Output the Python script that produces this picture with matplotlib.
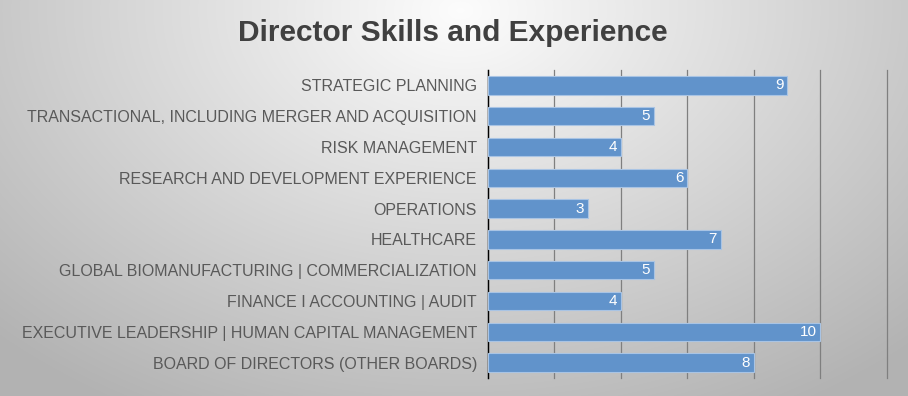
import numpy as np
import matplotlib.pyplot as plt

plt.rcParams['font.family'] = ['Liberation Sans', 'DejaVu Sans']

# Data (top to bottom as shown)
skills = [
    'STRATEGIC PLANNING',
    'TRANSACTIONAL, INCLUDING MERGER AND ACQUISITION',
    'RISK MANAGEMENT',
    'RESEARCH AND DEVELOPMENT EXPERIENCE',
    'OPERATIONS',
    'HEALTHCARE',
    'GLOBAL BIOMANUFACTURING | COMMERCIALIZATION',
    'FINANCE I ACCOUNTING | AUDIT',
    'EXECUTIVE LEADERSHIP | HUMAN CAPITAL MANAGEMENT',
    'BOARD OF DIRECTORS (OTHER BOARDS)',
]
counts = [9, 5, 4, 6, 3, 7, 5, 4, 10, 8]

W, H = 908, 396
fig = plt.figure(figsize=(W / 100, H / 100), dpi=100)

# Radial gray gradient background
bg = fig.add_axes([0, 0, 1, 1], zorder=-10)
yy, xx = np.mgrid[0:H, 0:W]
r = np.sqrt(((xx - 460) / W) ** 2 + ((yy - 10) / (H * 1.6)) ** 2)
shade = np.clip(0.99 - 0.40 * r, 0.70, 1.0)
bg.imshow(np.dstack([shade] * 3), aspect='auto', extent=[0, 1, 0, 1])
bg.axis('off')

ax = fig.add_axes([488 / W, 1 - 378 / H, (887 - 488) / W, (378 - 70) / H])
ax.set_facecolor('none')

y = np.arange(len(skills))[::-1]
ax.barh(y, counts, height=0.6, color='#6193cb', edgecolor='#a9c4e4', linewidth=0.8, zorder=3)
for yi, c in zip(y, counts):
    ax.text(c - 0.12, yi, str(c), ha='right', va='center', color='white', fontsize=11, zorder=4)

ax.set_xlim(0, 12)
ax.set_ylim(-0.5, len(skills) - 0.5)
ax.set_xticks(np.arange(0, 13, 2))
ax.set_xticklabels([])
ax.set_yticks(y)
ax.set_yticklabels(skills, fontsize=11.5, color='#595959')
ax.tick_params(axis='both', length=0, pad=8)
ax.grid(axis='x', color='#7f7f7f', linewidth=0.9, zorder=0)
for line in ax.get_xgridlines():
    line.set_clip_on(False)
for s in ['top', 'right', 'bottom']:
    ax.spines[s].set_visible(False)
ax.spines['left'].set_color('black')
ax.spines['left'].set_linewidth(1.0)

fig.text(453 / W, 1 - 33 / H, 'Director Skills and Experience', ha='center', va='center',
         fontsize=21.5, fontweight='bold', color='#404040')

plt.savefig('out.png', dpi=100)
